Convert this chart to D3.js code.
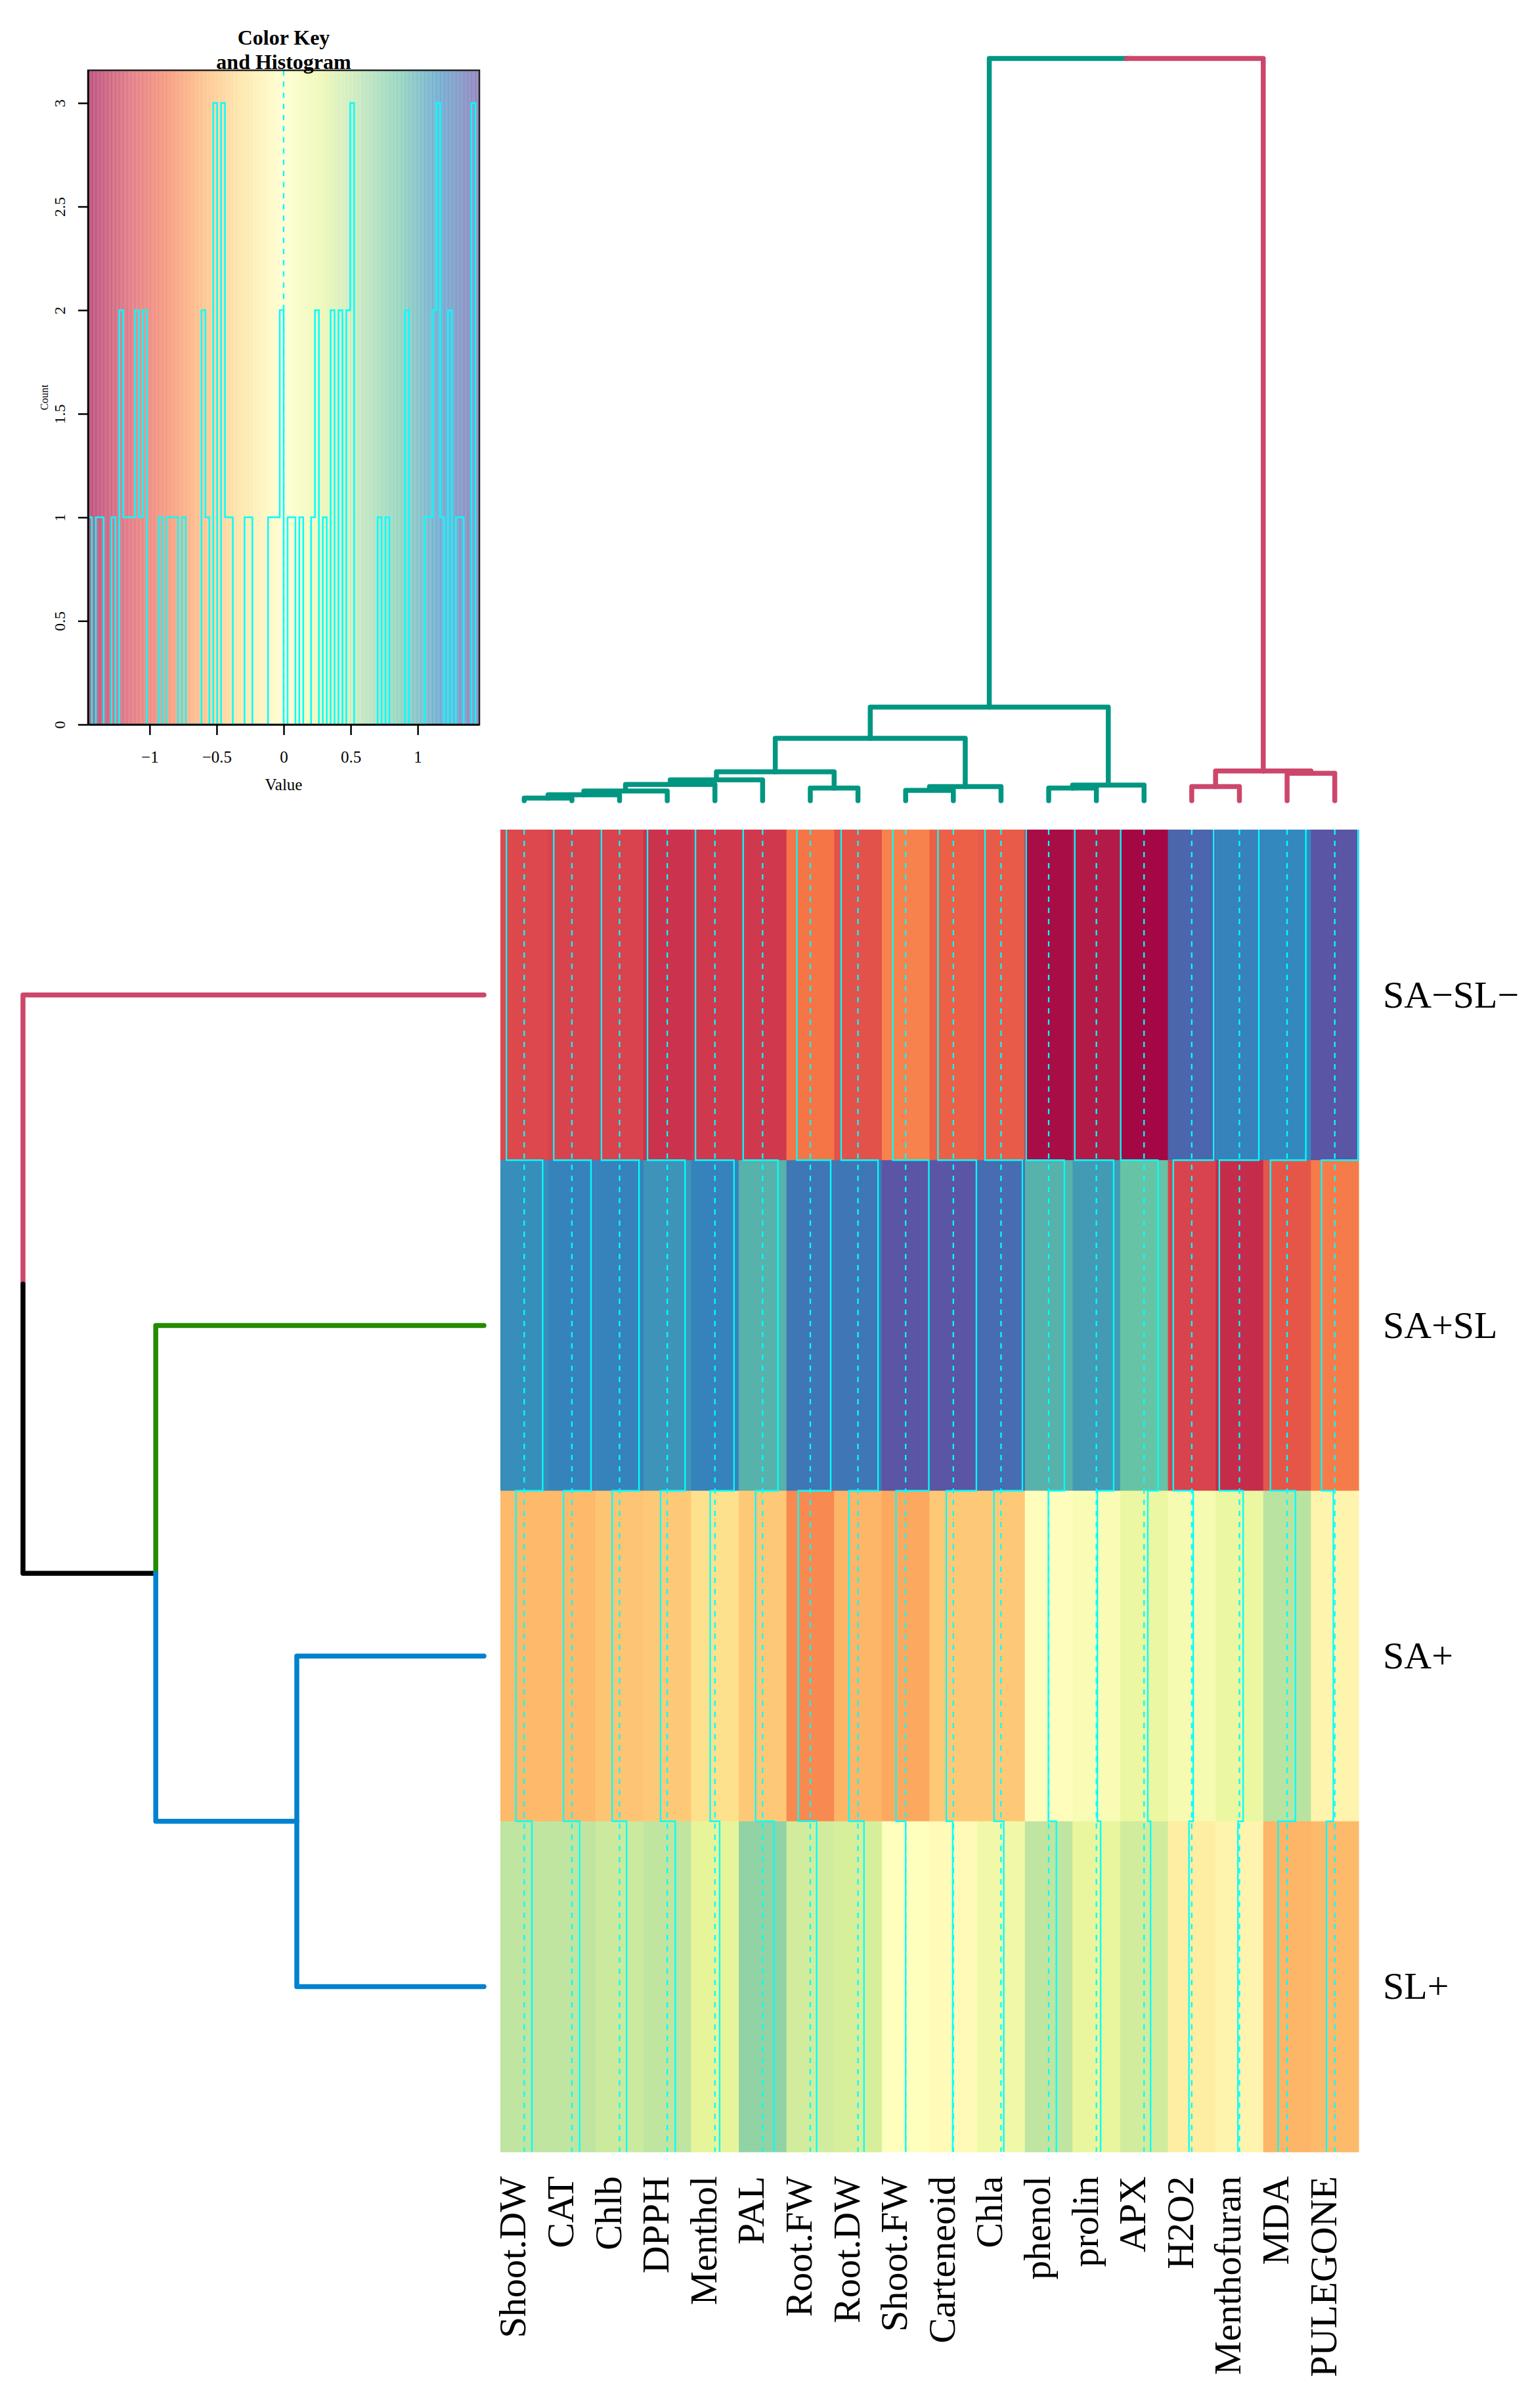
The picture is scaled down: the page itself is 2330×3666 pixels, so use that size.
<!DOCTYPE html>
<html>
<head>
<meta charset="utf-8">
<script src="https://cdn.jsdelivr.net/npm/d3@7"></script>
<style>
  html, body { margin: 0; padding: 0; background: #fff; }
  svg { display: block; }
  text { font-family: "Liberation Serif", "Times New Roman", serif; fill: #000; }
</style>
</head>
<body>
<div id="chart"></div>
<script>
// ---- data ----
const colLabels = ['Shoot.DW', 'CAT', 'Chlb', 'DPPH', 'Menthol', 'PAL', 'Root.FW', 'Root.DW', 'Shoot.FW',
  'Carteneoid', 'Chla', 'phenol', 'prolin', 'APX', 'H2O2', 'Menthofuran', 'MDA', 'PULEGONE'];
const rowLabels = ['SA−SL−', 'SA+SL', 'SA+', 'SL+'];

// column z-scores, one array per row (same order as rowLabels)
const rowSAmSLm = [-1.09, -1.11, -1.11, -1.21, -1.19, -1.19, -0.82, -1.03, -0.78, -0.94, -0.98, -1.38, -1.32, -1.43, 1.34, 1.19, 1.15, 1.42];
const rowSApSL  = [1.13, 1.17, 1.19, 1.09, 1.17, 0.94, 1.25, 1.23, 1.42, 1.41, 1.31, 0.96, 1.06, 0.85, -1.13, -1.23, -1.02, -0.81];
const rowSAp    = [-0.51, -0.51, -0.45, -0.41, -0.29, -0.43, -0.74, -0.55, -0.59, -0.43, -0.43, -0.02, 0.06, 0.23, 0.09, 0.23, 0.51, -0.09];
const rowSLp    = [0.47, 0.47, 0.43, 0.49, 0.29, 0.70, 0.39, 0.37, 0.00, -0.04, 0.17, 0.47, 0.26, 0.40, -0.17, -0.09, -0.55, -0.51];
const values = [rowSAmSLm, rowSApSL, rowSAp, rowSLp];

// histogram counts of the colour key (100 bins between -1.46 and 1.46)
const histCounts = [1, 0, 1, 1, 0, 0, 1, 0, 2, 1, 1, 1, 2, 1, 2, 0, 0, 0, 1, 0,
  1, 1, 1, 0, 1, 0, 0, 0, 0, 2, 1, 0, 3, 0, 3, 1, 1, 0, 0, 0,
  1, 1, 0, 0, 0, 0, 1, 1, 1, 2, 0, 1, 1, 0, 1, 0, 0, 1, 2, 0,
  1, 0, 2, 0, 2, 0, 2, 3, 0, 0, 0, 0, 0, 0, 1, 0, 1, 0, 0, 0,
  0, 2, 0, 0, 0, 0, 1, 1, 2, 3, 1, 0, 2, 0, 1, 1, 0, 0, 3, 0];
const keyRange = [-1.46, 1.46];
const keyTicks = [-1, -0.5, 0, 0.5, 1];
const countTicks = [0, 0.5, 1, 1.5, 2, 2.5, 3];

// dendrograms (merge heights, root = 10)
const colTree = { h: 10, children: [
  { h: 1.26, children: [
    { h: 0.84, children: [
      { h: 0.39, children: [
        { h: 0.28, children: [
          { h: 0.22, children: [
            { h: 0.13, children: [
              { h: 0.08, children: [
                { h: 0.035, children: [{ name: 'Shoot.DW' }, { name: 'CAT' }] },
                { name: 'Chlb' }] },
              { name: 'DPPH' }] },
            { name: 'Menthol' }] },
          { name: 'PAL' }] },
        { h: 0.17, children: [{ name: 'Root.FW' }, { name: 'Root.DW' }] }] },
      { h: 0.19, children: [
        { h: 0.14, children: [{ name: 'Shoot.FW' }, { name: 'Carteneoid' }] },
        { name: 'Chla' }] }] },
    { h: 0.21, children: [
      { h: 0.17, children: [{ name: 'phenol' }, { name: 'prolin' }] },
      { name: 'APX' }] }] },
  { h: 0.40, children: [
    { h: 0.19, children: [{ name: 'H2O2' }, { name: 'Menthofuran' }] },
    { h: 0.37, children: [{ name: 'MDA' }, { name: 'PULEGONE' }] }] }
] };
const rowTree = { h: 10, children: [
  { name: 'SA−SL−' },
  { h: 7.12, children: [
    { name: 'SA+SL' },
    { h: 4.06, children: [{ name: 'SA+' }, { name: 'SL+' }] }] }
] };

// cluster of each leaf and the branch colours
const colClusters = { 'H2O2': 'b', 'Menthofuran': 'b', 'MDA': 'b', 'PULEGONE': 'b' }; // others 'a'
const colClusterColor = { a: '#009681', b: '#CC476B' };
const rowClusters = { 'SA−SL−': 'a', 'SA+SL': 'b', 'SA+': 'c', 'SL+': 'c' };
const rowClusterColor = { a: '#CC476B', b: '#228B00', c: '#0082CE' };

// ---- drawing ----
const w = 2330;
const h = 3666;
const traceCol = '#00FFFF';

const svg = d3.select('#chart')
  .append('svg')
  .attr('width', w)
  .attr('height', h);

svg.append('rect').attr('width', w).attr('height', h).attr('fill', '#fff');

const x = d3.scaleBand().domain(colLabels).range([762, 2069]);
const y = d3.scaleBand().domain(rowLabels).range([1263, 3276]);

const spectral = d3.scaleLinear()
  .domain(d3.range(11).map(i => keyRange[0] + i * (keyRange[1] - keyRange[0]) / 10))
  .range(d3.schemeSpectral[11]);
const nBins = histCounts.length;
const palette = d3.range(nBins).map(i => spectral(keyRange[0] + (keyRange[1] - keyRange[0]) * i / (nBins - 1)));
const colour = d3.scaleQuantize().domain(keyRange).range(palette);

const cells = [];
rowLabels.forEach((r, i) => colLabels.forEach((c, j) => cells.push({ r, c, v: values[i][j] })));

svg.append('g')
  .selectAll('rect')
  .data(cells)
  .enter()
  .append('rect')
  .attr('x', d => x(d.c))
  .attr('y', d => y(d.r))
  .attr('width', x.bandwidth() + 0.6)
  .attr('height', y.bandwidth() + 0.6)
  .attr('fill', d => colour(d.v));

// column traces
const tx = d3.scaleLinear().domain(keyRange).range([0, x.bandwidth()]);
const traceG = svg.append('g').attr('fill', 'none').attr('stroke', traceCol);

colLabels.forEach((c, j) => {
  traceG.append('line')
    .attr('x1', x(c) + tx(0)).attr('x2', x(c) + tx(0))
    .attr('y1', y.range()[0]).attr('y2', y.range()[1])
    .attr('stroke-width', 2.3)
    .attr('stroke-dasharray', '8,9');
  const pts = [];
  rowLabels.forEach((r, i) => {
    const px = x(c) + tx(values[i][j]);
    pts.push([px, y(r)], [px, y(r) + y.bandwidth()]);
  });
  traceG.append('path')
    .attr('d', d3.line()(pts))
    .attr('stroke-width', 2.3);
});

// labels
svg.append('g')
  .selectAll('text')
  .data(rowLabels)
  .enter()
  .append('text')
  .attr('x', 2106)
  .attr('y', d => y(d) + y.bandwidth() / 2 + 19)
  .attr('font-size', 58)
  .text(d => d);

svg.append('g')
  .selectAll('text')
  .data(colLabels)
  .enter()
  .append('text')
  .attr('transform', d => 'translate(' + (x(d) + x.bandwidth() / 2 + 2) + ',3313) rotate(-90)')
  .attr('text-anchor', 'end')
  .attr('font-size', 58)
  .text(d => d);

// dendrograms
function drawDendro(tree, leafPos, hScale, clusters, clusterColor, fallback, vertical) {
  const root = d3.hierarchy(tree);
  root.eachAfter(n => {
    n.pos = n.children ? d3.mean([n.children[0].pos, n.children[n.children.length - 1].pos]) : leafPos(n.data.name);
    n.hv = hScale(n.children ? n.data.h : 0);
    const ks = new Set(n.leaves().map(l => clusters[l.data.name] || 'a'));
    n.col = ks.size === 1 ? clusterColor[[...ks][0]] : fallback;
  });
  const g = svg.append('g')
    .attr('fill', 'none')
    .attr('stroke-width', 7.5)
    .attr('stroke-linecap', 'round')
    .attr('stroke-linejoin', 'round');
  root.descendants().filter(n => n.parent).forEach(n => {
    const p = n.parent;
    const pts = vertical
      ? [[p.pos, p.hv], [n.pos, p.hv], [n.pos, n.hv]]
      : [[p.hv, p.pos], [p.hv, n.pos], [n.hv, n.pos]];
    g.append('path').attr('d', d3.line()(pts)).attr('stroke', n.col);
  });
}

drawDendro(colTree, name => x(name) + x.bandwidth() / 2,
  d3.scaleLinear().domain([0, 10]).range([1219, 89]),
  colClusters, colClusterColor, '#000', true);

drawDendro(rowTree, name => y(name) + y.bandwidth() / 2,
  d3.scaleLinear().domain([0, 10]).range([737, 35]),
  rowClusters, rowClusterColor, '#000', false);

// colour key + histogram
const kx = d3.scaleLinear().domain(keyRange).range([134, 730]);
const ky = d3.scaleLinear().domain([0, 3 / 0.95]).range([1103, 107]);
const breaks = d3.range(nBins + 1).map(i => keyRange[0] + i * (keyRange[1] - keyRange[0]) / nBins);

const key = svg.append('g');
key.selectAll('rect')
  .data(palette)
  .enter()
  .append('rect')
  .attr('x', (d, i) => kx(breaks[i]))
  .attr('y', ky.range()[1])
  .attr('width', (d, i) => kx(breaks[i + 1]) - kx(breaks[i]) + 0.5)
  .attr('height', ky.range()[0] - ky.range()[1])
  .attr('fill', d => d)
  .attr('fill-opacity', 0.62);

key.append('line')
  .attr('x1', kx(0)).attr('x2', kx(0))
  .attr('y1', ky.range()[1]).attr('y2', ky.range()[0])
  .attr('stroke', traceCol)
  .attr('stroke-width', 2.3)
  .attr('stroke-dasharray', '8,9');

const histPts = breaks.map((b, i) => [kx(b), ky(histCounts[Math.min(i, nBins - 1)])]);
key.append('path')
  .attr('d', d3.line().curve(d3.curveStepAfter)(histPts))
  .attr('fill', 'none')
  .attr('stroke', traceCol)
  .attr('stroke-width', 2.5);

key.append('rect')
  .attr('x', 134).attr('y', 107)
  .attr('width', 596).attr('height', 996)
  .attr('fill', 'none')
  .attr('stroke', '#222')
  .attr('stroke-width', 2.5);

const xAxis = d3.axisBottom(kx).tickValues(keyTicks).tickFormat(d3.format('')).tickSize(16).tickSizeOuter(0);
const yAxis = d3.axisLeft(ky).tickValues(countTicks).tickFormat(d3.format('')).tickSize(15).tickSizeOuter(0);

const gx = key.append('g')
  .attr('transform', 'translate(0,1103)')
  .call(xAxis);
gx.selectAll('text')
  .attr('y', 58)
  .attr('dy', 0)
  .attr('font-size', 25)
  .attr('font-family', '"Liberation Serif", serif')
  .attr('fill', '#000');

const gy = key.append('g')
  .attr('transform', 'translate(134,0)')
  .call(yAxis);
gy.selectAll('text')
  .attr('x', 0)
  .attr('y', -35)
  .attr('dy', 0)
  .attr('transform', 'rotate(-90)')
  .attr('text-anchor', 'middle')
  .attr('font-size', 24)
  .attr('font-family', '"Liberation Serif", serif')
  .attr('fill', '#000');

[gx, gy].forEach(g => {
  g.selectAll('line').attr('stroke', '#000').attr('stroke-width', 2.5);
  g.select('.domain').attr('stroke', '#000').attr('stroke-width', 2.5);
});

key.append('text')
  .attr('x', 432).attr('y', 68)
  .attr('text-anchor', 'middle')
  .attr('font-size', 32)
  .attr('font-weight', 'bold')
  .text('Color Key');
key.append('text')
  .attr('x', 432).attr('y', 105)
  .attr('text-anchor', 'middle')
  .attr('font-size', 32)
  .attr('font-weight', 'bold')
  .text('and Histogram');
key.append('text')
  .attr('x', 432).attr('y', 1203)
  .attr('text-anchor', 'middle')
  .attr('font-size', 25)
  .text('Value');
key.append('text')
  .attr('transform', 'translate(73,605) rotate(-90)')
  .attr('text-anchor', 'middle')
  .attr('font-size', 16)
  .text('Count');
</script>
</body>
</html>
